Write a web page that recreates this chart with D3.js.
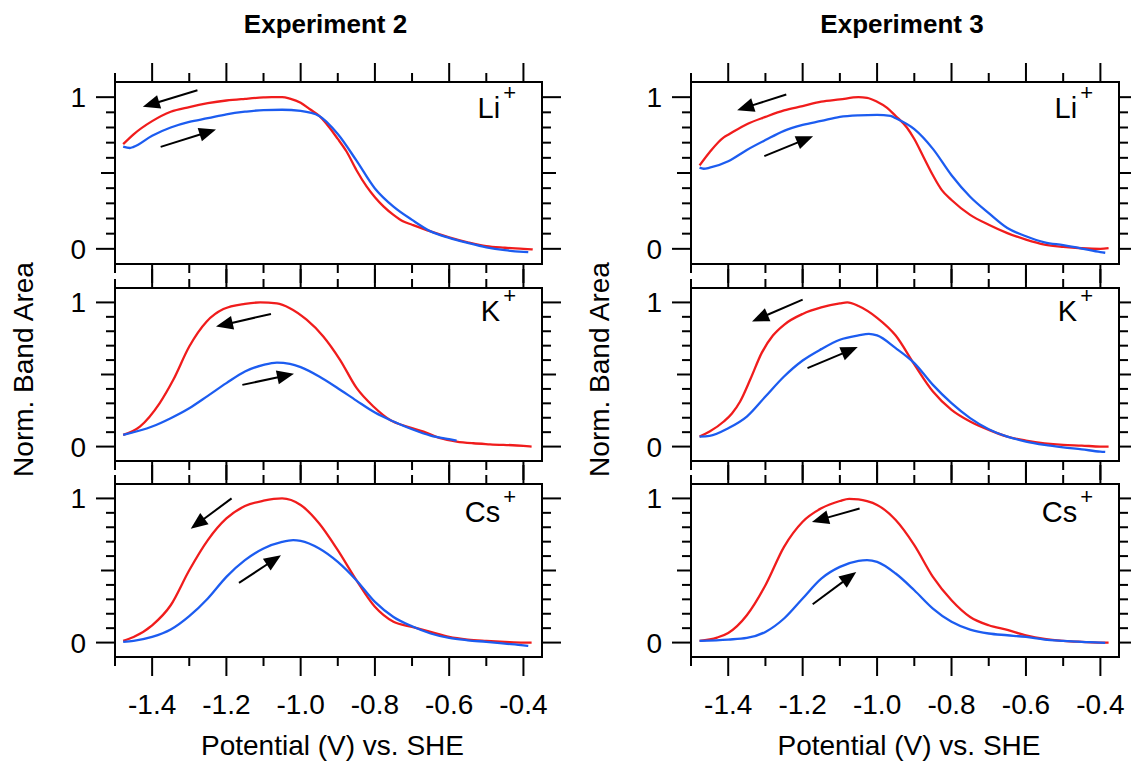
<!DOCTYPE html>
<html>
<head>
<meta charset="utf-8">
<script src="https://cdn.jsdelivr.net/npm/d3@7"></script>
<style>
  body { margin: 0; background: #fff; }
  svg { display: block; font-family: "Liberation Sans", Arial, sans-serif; }
</style>
</head>
<body>
<svg id="chart" width="1131" height="763"></svg>
<script>
// titles, ions and ticks
const experiments = ["Experiment 2", "Experiment 3"];
const ions = ["Li", "K", "Cs"];
const xMajorTicks = [-1.4, -1.2, -1.0, -0.8, -0.6, -0.4];
const xTickLabels = ["-1.4", "-1.2", "-1.0", "-0.8", "-0.6", "-0.4"];
const yMajorTicks = [0, 1];
const yTickLabels = ["0", "1"];

// red = reverse scan (towards negative), blue = forward scan
const exp2LiRed = [[-1.478,0.69],[-1.45,0.755],[-1.40,0.842],[-1.35,0.904],[-1.30,0.935],[-1.25,0.96],[-1.20,0.978],[-1.15,0.989],[-1.10,0.998],[-1.078,1.0],[-1.05,1.0],[-1.029,0.99],[-1.00,0.963],[-0.975,0.92],[-0.95,0.876],[-0.90,0.725],[-0.876,0.64],[-0.85,0.52],[-0.822,0.41],[-0.80,0.34],[-0.777,0.28],[-0.75,0.224],[-0.723,0.18],[-0.70,0.159],[-0.65,0.115],[-0.60,0.076],[-0.55,0.043],[-0.50,0.017],[-0.45,0.007],[-0.40,0.0],[-0.375,-0.004]];
const exp2LiBlue = [[-1.478,0.674],[-1.46,0.665],[-1.45,0.672],[-1.40,0.746],[-1.35,0.80],[-1.30,0.837],[-1.25,0.861],[-1.20,0.887],[-1.15,0.904],[-1.10,0.915],[-1.05,0.917],[-1.00,0.909],[-0.95,0.876],[-0.90,0.757],[-0.85,0.583],[-0.80,0.398],[-0.75,0.278],[-0.70,0.191],[-0.65,0.115],[-0.60,0.072],[-0.55,0.039],[-0.50,0.01],[-0.45,-0.009],[-0.40,-0.02],[-0.387,-0.022]];
const exp2KRed = [[-1.478,0.081],[-1.433,0.139],[-1.38,0.30],[-1.343,0.463],[-1.30,0.694],[-1.253,0.868],[-1.208,0.954],[-1.15,0.99],[-1.109,1.0],[-1.064,0.993],[-1.029,0.96],[-0.984,0.88],[-0.939,0.764],[-0.894,0.602],[-0.849,0.405],[-0.804,0.278],[-0.759,0.185],[-0.714,0.139],[-0.669,0.104],[-0.624,0.058],[-0.58,0.035],[-0.535,0.023],[-0.49,0.016],[-0.40,0.005],[-0.378,0.0]];
const exp2KBlue = [[-1.478,0.081],[-1.40,0.139],[-1.35,0.197],[-1.30,0.266],[-1.25,0.352],[-1.20,0.44],[-1.15,0.521],[-1.10,0.567],[-1.064,0.583],[-1.029,0.574],[-1.00,0.551],[-0.95,0.486],[-0.90,0.405],[-0.85,0.319],[-0.80,0.236],[-0.75,0.174],[-0.70,0.12],[-0.65,0.076],[-0.60,0.051],[-0.58,0.042]];
const exp2CsRed = [[-1.478,0.012],[-1.45,0.039],[-1.40,0.12],[-1.35,0.259],[-1.30,0.502],[-1.25,0.711],[-1.20,0.861],[-1.15,0.947],[-1.10,0.984],[-1.05,1.0],[-1.00,0.954],[-0.95,0.826],[-0.90,0.641],[-0.85,0.433],[-0.80,0.248],[-0.75,0.144],[-0.70,0.109],[-0.65,0.074],[-0.60,0.039],[-0.55,0.021],[-0.50,0.012],[-0.45,0.005],[-0.40,0.0],[-0.378,0.0]];
const exp2CsBlue = [[-1.478,0.005],[-1.45,0.012],[-1.40,0.039],[-1.35,0.09],[-1.30,0.183],[-1.25,0.306],[-1.20,0.456],[-1.15,0.572],[-1.10,0.653],[-1.05,0.699],[-1.02,0.711],[-1.00,0.706],[-0.95,0.653],[-0.90,0.56],[-0.85,0.433],[-0.80,0.282],[-0.75,0.178],[-0.70,0.113],[-0.65,0.063],[-0.60,0.032],[-0.55,0.016],[-0.50,0.005],[-0.45,-0.007],[-0.40,-0.019],[-0.387,-0.023]];

const exp3LiRed = [[-1.477,0.55],[-1.45,0.637],[-1.412,0.735],[-1.40,0.752],[-1.35,0.822],[-1.30,0.87],[-1.25,0.913],[-1.20,0.941],[-1.15,0.97],[-1.10,0.985],[-1.05,1.0],[-1.027,0.996],[-1.00,0.97],[-0.973,0.93],[-0.95,0.876],[-0.92,0.80],[-0.90,0.724],[-0.875,0.604],[-0.85,0.485],[-0.826,0.387],[-0.80,0.322],[-0.75,0.224],[-0.70,0.159],[-0.65,0.104],[-0.60,0.061],[-0.55,0.028],[-0.50,0.013],[-0.45,0.004],[-0.40,0.0],[-0.378,0.004]];
const exp3LiBlue = [[-1.477,0.535],[-1.466,0.528],[-1.45,0.535],[-1.40,0.578],[-1.35,0.652],[-1.30,0.717],[-1.25,0.778],[-1.20,0.817],[-1.15,0.843],[-1.10,0.87],[-1.05,0.88],[-1.00,0.883],[-0.964,0.876],[-0.95,0.861],[-0.90,0.789],[-0.85,0.659],[-0.80,0.485],[-0.75,0.343],[-0.70,0.235],[-0.65,0.137],[-0.60,0.083],[-0.55,0.043],[-0.50,0.024],[-0.45,0.002],[-0.40,-0.022],[-0.387,-0.026]];
const exp3KRed = [[-1.477,0.069],[-1.45,0.104],[-1.412,0.174],[-1.39,0.23],[-1.368,0.313],[-1.34,0.47],[-1.31,0.65],[-1.28,0.77],[-1.25,0.845],[-1.20,0.92],[-1.15,0.965],[-1.10,0.993],[-1.08,1.0],[-1.05,0.975],[-1.00,0.893],[-0.95,0.77],[-0.90,0.57],[-0.85,0.382],[-0.80,0.255],[-0.75,0.174],[-0.70,0.116],[-0.65,0.069],[-0.60,0.042],[-0.55,0.023],[-0.50,0.012],[-0.45,0.007],[-0.40,0.0],[-0.378,0.0]];
const exp3KBlue = [[-1.477,0.069],[-1.45,0.074],[-1.40,0.127],[-1.35,0.208],[-1.30,0.347],[-1.25,0.486],[-1.20,0.597],[-1.15,0.676],[-1.10,0.741],[-1.05,0.771],[-1.022,0.782],[-1.00,0.771],[-0.95,0.683],[-0.90,0.579],[-0.85,0.428],[-0.80,0.301],[-0.75,0.197],[-0.70,0.12],[-0.65,0.069],[-0.60,0.035],[-0.55,0.012],[-0.50,-0.005],[-0.45,-0.019],[-0.40,-0.035],[-0.387,-0.037]];
const exp3CsRed = [[-1.477,0.012],[-1.43,0.035],[-1.40,0.067],[-1.35,0.19],[-1.30,0.398],[-1.25,0.664],[-1.20,0.838],[-1.15,0.931],[-1.10,0.982],[-1.075,0.997],[-1.05,0.993],[-1.027,0.981],[-1.00,0.955],[-0.95,0.85],[-0.90,0.676],[-0.85,0.456],[-0.80,0.294],[-0.75,0.178],[-0.70,0.12],[-0.65,0.088],[-0.60,0.05],[-0.55,0.025],[-0.50,0.012],[-0.45,0.005],[-0.40,0.0],[-0.378,0.0]];
const exp3CsBlue = [[-1.477,0.012],[-1.40,0.021],[-1.35,0.032],[-1.30,0.074],[-1.25,0.167],[-1.20,0.306],[-1.15,0.444],[-1.10,0.525],[-1.05,0.567],[-1.027,0.572],[-1.00,0.56],[-0.95,0.479],[-0.90,0.363],[-0.85,0.236],[-0.80,0.144],[-0.75,0.09],[-0.70,0.063],[-0.65,0.051],[-0.60,0.039],[-0.55,0.021],[-0.50,0.012],[-0.45,0.005],[-0.40,0.0],[-0.387,-0.002]];

// scan direction arrows: [x tail, y tail, x tip, y tip]
const exp2LiArrows = [[-1.278,1.046,-1.425,0.936],[-1.377,0.672,-1.228,0.787]];
const exp2KArrows = [[-1.08,0.92,-1.228,0.833],[-1.157,0.428,-1.018,0.505]];
const exp2CsArrows = [[-1.186,1.0,-1.296,0.79],[-1.166,0.414,-1.053,0.606]];
const exp3LiArrows = [[-1.244,1.018,-1.376,0.914],[-1.303,0.611,-1.172,0.743]];
const exp3KArrows = [[-1.2,1.019,-1.336,0.868],[-1.187,0.544,-1.052,0.69]];
const exp3CsArrows = [[-1.047,0.93,-1.175,0.837],[-1.173,0.266,-1.056,0.49]];

const panels = [
  { col: 0, row: 0, red: exp2LiRed, blue: exp2LiBlue, arrows: exp2LiArrows },
  { col: 0, row: 1, red: exp2KRed, blue: exp2KBlue, arrows: exp2KArrows },
  { col: 0, row: 2, red: exp2CsRed, blue: exp2CsBlue, arrows: exp2CsArrows },
  { col: 1, row: 0, red: exp3LiRed, blue: exp3LiBlue, arrows: exp3LiArrows },
  { col: 1, row: 1, red: exp3KRed, blue: exp3KBlue, arrows: exp3KArrows },
  { col: 1, row: 2, red: exp3CsRed, blue: exp3CsBlue, arrows: exp3CsArrows },
];

// layout
const colLeft = [115, 691], colRight = [542, 1119];
const rowTop = [82, 288, 484], rowBottom = [264, 461, 657];
const ionBaseline = [36, 33, 38];
const red = "#f01c1c", blue = "#1c5cf0";
const majorLen = 19, midLen = 14, minorLen = 9;

const svg = d3.select("#chart");

panels.forEach(p => {
  const x = d3.scaleLinear().domain([-1.5, -0.35]).range([colLeft[p.col], colRight[p.col]]);
  const y = d3.scaleLinear().domain([-0.1, 1.1]).range([rowBottom[p.row], rowTop[p.row]]);
  const g = svg.append("g");
  const [x0, x1] = x.range(), [y0, y1] = [y.range()[1], y.range()[0]];

  // ticks on all four sides, pointing out
  const xt = d3.range(-15, -3).map(k => k / 10);
  const xLen = v => (Math.round(v * 10) % 2 === 0 ? majorLen : minorLen);
  g.append("g").selectAll("line").data(xt).join("line")
    .attr("x1", d => x(d)).attr("x2", d => x(d))
    .attr("y1", y0).attr("y2", d => y0 - xLen(d));
  g.append("g").selectAll("line").data(xt).join("line")
    .attr("x1", d => x(d)).attr("x2", d => x(d))
    .attr("y1", y1).attr("y2", d => y1 + xLen(d));
  const yt = d3.range(0, 11).map(k => k / 10);
  const yLen = v => { const k = Math.round(v * 10); return k === 0 || k === 10 ? majorLen : k === 5 ? midLen : minorLen; };
  g.append("g").selectAll("line").data(yt).join("line")
    .attr("x1", x0).attr("x2", d => x0 - yLen(d))
    .attr("y1", d => y(d)).attr("y2", d => y(d));
  g.append("g").selectAll("line").data(yt).join("line")
    .attr("x1", x1).attr("x2", d => x1 + yLen(d))
    .attr("y1", d => y(d)).attr("y2", d => y(d));
  g.selectAll("line").attr("stroke", "#000").attr("stroke-width", 2);

  g.append("rect")
    .attr("x", x0).attr("y", y0).attr("width", x1 - x0).attr("height", y1 - y0)
    .attr("fill", "none").attr("stroke", "#000").attr("stroke-width", 2);

  // y tick labels
  g.append("g").selectAll("text").data(yMajorTicks).join("text")
    .attr("x", x0 - 29).attr("y", d => y(d)).attr("dy", "0.36em")
    .attr("text-anchor", "end").attr("font-size", 28)
    .text((d, i) => yTickLabels[i]);

  // curves
  const line = d3.line().x(d => x(d[0])).y(d => y(d[1])).curve(d3.curveMonotoneX);
  g.append("path").datum(p.red).attr("d", line)
    .attr("fill", "none").attr("stroke", red).attr("stroke-width", 2.3);
  g.append("path").datum(p.blue).attr("d", line)
    .attr("fill", "none").attr("stroke", blue).attr("stroke-width", 2.3);

  // arrows
  p.arrows.forEach(a => {
    const tx = x(a[0]), ty = y(a[1]), hx = x(a[2]), hy = y(a[3]);
    const len = Math.hypot(hx - tx, hy - ty), ux = (hx - tx) / len, uy = (hy - ty) / len;
    const bx = hx - ux * 17, by = hy - uy * 17;
    g.append("line").attr("x1", tx).attr("y1", ty).attr("x2", bx + ux * 2).attr("y2", by + uy * 2)
      .attr("stroke", "#000").attr("stroke-width", 2);
    g.append("path")
      .attr("d", `M${hx},${hy}L${bx - uy * 7},${by + ux * 7}L${bx + uy * 7},${by - ux * 7}Z`)
      .attr("fill", "#000");
  });

  // ion label
  const lab = g.append("text")
    .attr("x", x1 - 26).attr("y", y0 + ionBaseline[p.row])
    .attr("text-anchor", "end").attr("font-size", 29);
  lab.append("tspan").text(ions[p.row]);
  lab.append("tspan").attr("font-size", 22).attr("dx", 3).attr("dy", -18).text("+");

  // bottom row: x tick labels + axis title
  if (p.row === 2) {
    g.append("g").selectAll("text").data(xMajorTicks).join("text")
      .attr("x", d => x(d)).attr("y", y1 + 57)
      .attr("text-anchor", "middle").attr("font-size", 28)
      .text((d, i) => xTickLabels[i]);
    g.append("text")
      .attr("x", (x0 + x1) / 2 + 4).attr("y", 755)
      .attr("text-anchor", "middle").attr("font-size", 28)
      .text("Potential (V) vs. SHE");
  }
  if (p.row === 0) {
    g.append("text")
      .attr("x", (x0 + x1) / 2 - 3).attr("y", 33)
      .attr("text-anchor", "middle").attr("font-size", 26).attr("font-weight", "bold")
      .text(experiments[p.col]);
  }
});

// y axis titles
[0, 1].forEach(c => {
  svg.append("text")
    .attr("transform", `translate(${colLeft[c] - 82},${(rowTop[0] + rowBottom[2]) / 2}) rotate(-90)`)
    .attr("text-anchor", "middle").attr("font-size", 28)
    .text("Norm. Band Area");
});
</script>
</body>
</html>
